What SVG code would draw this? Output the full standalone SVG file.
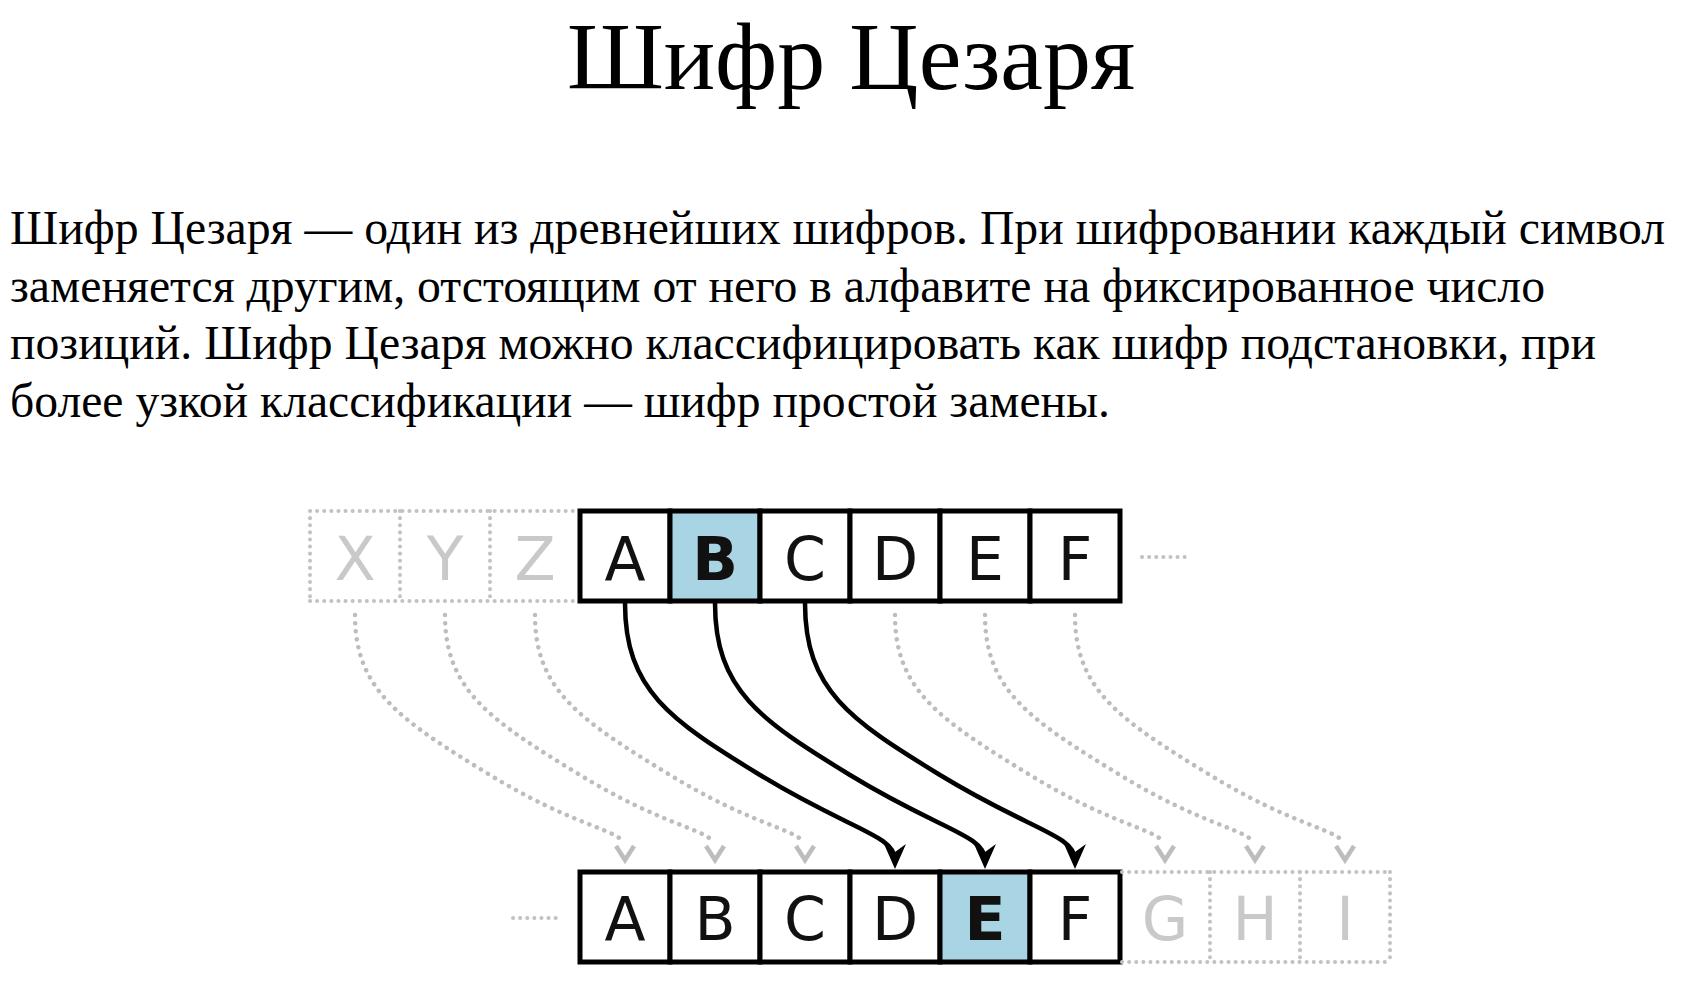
<svg xmlns="http://www.w3.org/2000/svg" width="1683" height="996" viewBox="0 0 1683 996">
<style>
.title{font-family:"Liberation Serif","Times New Roman",serif;font-size:96px;fill:#000}
.body{font-family:"Liberation Serif","Times New Roman",serif;font-size:48px;fill:#000}
.cell{fill:#fff;stroke:#000;stroke-width:5}
.hl{fill:#a8d4e3;stroke:#000;stroke-width:5}
.ltr{font-family:"DejaVu Sans",sans-serif;font-size:60px;fill:#111;text-anchor:middle}
.bold{font-weight:bold}
.ghost{font-family:"DejaVu Sans",sans-serif;font-size:60px;fill:#c9c9c9;text-anchor:middle}
.dotline{fill:none;stroke:#c2c2c2;stroke-width:4;stroke-dasharray:0.1 7;stroke-linecap:round}
.arrow{fill:none;stroke:#000;stroke-width:4.5}
.garrow{fill:none;stroke:#bdbdbd;stroke-width:4.5;stroke-dasharray:0.1 8;stroke-linecap:round}
.chev{fill:none;stroke:#bdbdbd;stroke-width:4.5}
</style>
<defs>
<marker id="ah" markerUnits="userSpaceOnUse" markerWidth="40" markerHeight="40" viewBox="-30 -15 40 30" refX="-9" refY="0" orient="auto">
<path d="M0,0 L-25,-11 L-17,0 L-25,11 Z" fill="#000"/>
</marker>
<path id="chev" d="M-9,-12 L0,2 L9,-12" class="chev"/>
</defs>
<rect width="1683" height="996" fill="#fff"/>

<g id="title">
<text class="title" x="851" y="89" text-anchor="middle">Шифр Цезаря</text>
</g>

<g id="paragraph">
<text class="body" x="10" y="244" textLength="1655" lengthAdjust="spacingAndGlyphs">Шифр Цезаря — один из древнейших шифров. При шифровании каждый символ</text>
<text class="body" x="10" y="301.5" textLength="1535" lengthAdjust="spacingAndGlyphs">заменяется другим, отстоящим от него в алфавите на фиксированное число</text>
<text class="body" x="10" y="359" textLength="1586" lengthAdjust="spacingAndGlyphs">позиций. Шифр Цезаря можно классифицировать как шифр подстановки, при</text>
<text class="body" x="10" y="416.5" textLength="1100" lengthAdjust="spacingAndGlyphs">более узкой классификации — шифр простой замены.</text>
</g>

<g id="connectors">
<path class="garrow" d="M355,615 C355,690 400,720 490,775 C570,824 617,830 623,842"/>
<path class="garrow" d="M445,615 C445,690 490,720 580,775 C660,824 707,830 713,842"/>
<path class="garrow" d="M535,615 C535,690 580,720 670,775 C750,824 797,830 803,842"/>
<path class="garrow" d="M895,615 C895,690 940,720 1030,775 C1110,824 1157,830 1163,842"/>
<path class="garrow" d="M985,615 C985,690 1030,720 1120,775 C1200,824 1247,830 1253,842"/>
<path class="garrow" d="M1075,615 C1075,690 1120,720 1210,775 C1290,824 1337,830 1343,842"/>
<use href="#chev" x="625" y="858"/>
<use href="#chev" x="715" y="858"/>
<use href="#chev" x="805" y="858"/>
<use href="#chev" x="1165" y="858"/>
<use href="#chev" x="1255" y="858"/>
<use href="#chev" x="1345" y="858"/>
<path class="arrow" marker-end="url(#ah)" d="M625,603 C625,690 670,720 760,775 C850,830 895,835 895,860"/>
<path class="arrow" marker-end="url(#ah)" d="M715,603 C715,690 760,720 850,775 C940,830 985,835 985,860"/>
<path class="arrow" marker-end="url(#ah)" d="M805,603 C805,690 850,720 940,775 C1030,830 1075,835 1075,860"/>
</g>

<g id="top-ghost">
<path class="dotline" d="M310,511 H578 M310,601 H578 M310,511 V601 M400,511 V601 M490,511 V601"/>
<text class="ghost" x="355" y="580">X</text>
<text class="ghost" x="445" y="580">Y</text>
<text class="ghost" x="535" y="580">Z</text>
</g>
<g id="top-A"><rect class="cell" x="580" y="511" width="90" height="90"/><text class="ltr" x="625" y="580">A</text></g>
<g id="top-B"><rect class="hl" x="670" y="511" width="90" height="90"/><text class="ltr bold" x="715" y="580">B</text></g>
<g id="top-C"><rect class="cell" x="760" y="511" width="90" height="90"/><text class="ltr" x="805" y="580">C</text></g>
<g id="top-D"><rect class="cell" x="850" y="511" width="90" height="90"/><text class="ltr" x="895" y="580">D</text></g>
<g id="top-E"><rect class="cell" x="940" y="511" width="90" height="90"/><text class="ltr" x="985" y="580">E</text></g>
<g id="top-F"><rect class="cell" x="1030" y="511" width="90" height="90"/><text class="ltr" x="1075" y="580">F</text></g>
<g id="top-more"><path class="dotline" d="M1142,557 H1190"/></g>

<g id="bottom-more"><path class="dotline" d="M513,918 H560"/></g>
<g id="bot-A"><rect class="cell" x="580" y="872" width="90" height="90"/><text class="ltr" x="625" y="940">A</text></g>
<g id="bot-B"><rect class="cell" x="670" y="872" width="90" height="90"/><text class="ltr" x="715" y="940">B</text></g>
<g id="bot-C"><rect class="cell" x="760" y="872" width="90" height="90"/><text class="ltr" x="805" y="940">C</text></g>
<g id="bot-D"><rect class="cell" x="850" y="872" width="90" height="90"/><text class="ltr" x="895" y="940">D</text></g>
<g id="bot-E"><rect class="hl" x="940" y="872" width="90" height="90"/><text class="ltr bold" x="985" y="940">E</text></g>
<g id="bot-F"><rect class="cell" x="1030" y="872" width="90" height="90"/><text class="ltr" x="1075" y="940">F</text></g>
<g id="bot-ghost">
<path class="dotline" d="M1122,872 H1390 M1122,962 H1390 M1390,872 V962 M1210,872 V962 M1300,872 V962"/>
<text class="ghost" x="1165" y="940">G</text>
<text class="ghost" x="1255" y="940">H</text>
<text class="ghost" x="1345" y="940">I</text>
</g>
</svg>
